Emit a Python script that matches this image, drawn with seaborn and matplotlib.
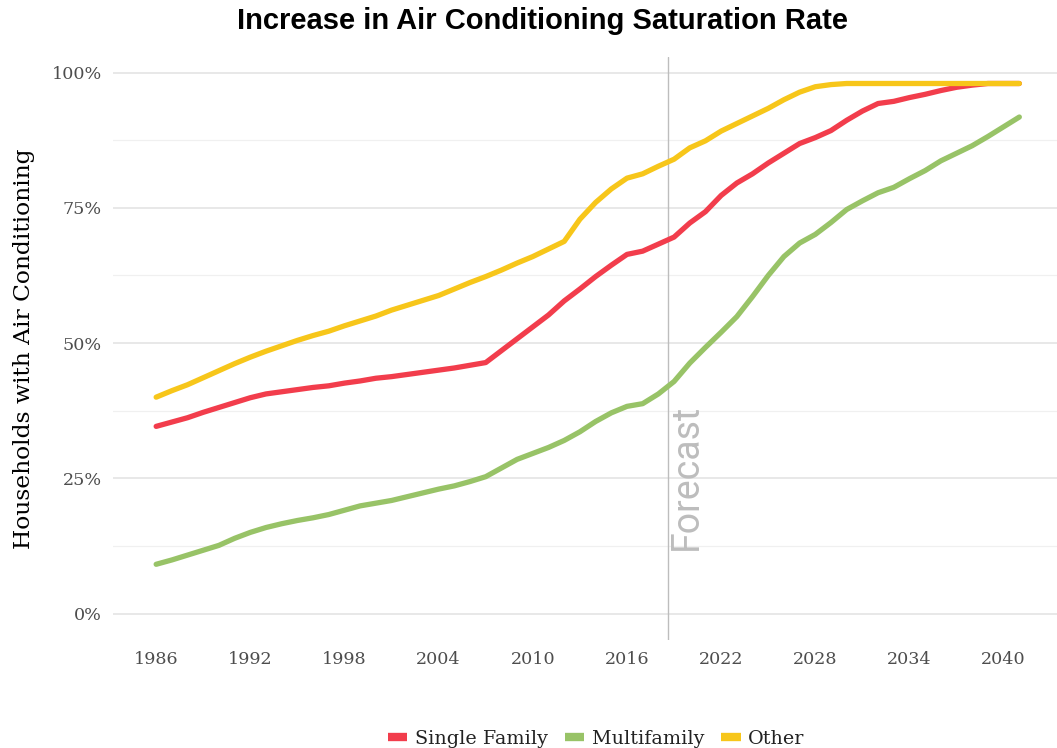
import numpy as np
import pandas as pd
import seaborn as sns
import matplotlib.pyplot as plt
from matplotlib.ticker import MultipleLocator, FuncFormatter

# values (share of households, %)
years = list(range(1986, 2042))

single_family = [34.6, 35.4, 36.2, 37.2, 38.1, 39.0, 39.9, 40.6, 41.0, 41.4,
                 41.8, 42.1, 42.6, 43.0, 43.5, 43.8, 44.2, 44.6, 45.0, 45.4,
                 45.9, 46.4, 48.6, 50.8, 53.0, 55.2, 57.8, 60.0, 62.3, 64.4,
                 66.4, 67.0, 68.3, 69.6, 72.2, 74.3, 77.3, 79.6, 81.3, 83.3,
                 85.1, 86.9, 88.0, 89.3, 91.2, 92.9, 94.3, 94.7, 95.4, 96.0,
                 96.7, 97.3, 97.7, 98.0, 98.0, 98.0]

multifamily = [9.1, 9.9, 10.8, 11.7, 12.6, 13.9, 15.0, 15.9, 16.6, 17.2,
               17.7, 18.3, 19.1, 19.9, 20.4, 20.9, 21.6, 22.3, 23.0, 23.6,
               24.4, 25.3, 26.9, 28.5, 29.6, 30.7, 32.0, 33.6, 35.5, 37.1,
               38.3, 38.8, 40.6, 42.9, 46.3, 49.2, 52.0, 54.9, 58.6, 62.5,
               66.0, 68.5, 70.1, 72.3, 74.7, 76.3, 77.8, 78.8, 80.4, 81.9,
               83.7, 85.1, 86.5, 88.2, 90.0, 91.8]

other = [40.0, 41.2, 42.3, 43.6, 44.9, 46.2, 47.4, 48.5, 49.5, 50.5,
         51.4, 52.2, 53.2, 54.1, 55.0, 56.1, 57.0, 57.9, 58.8, 60.0,
         61.2, 62.3, 63.5, 64.8, 66.0, 67.4, 68.8, 72.9, 76.0, 78.5,
         80.5, 81.3, 82.7, 84.0, 86.1, 87.4, 89.2, 90.6, 92.0, 93.4,
         95.0, 96.4, 97.4, 97.8, 98.0, 98.0, 98.0, 98.0, 98.0, 98.0,
         98.0, 98.0, 98.0, 98.0, 98.0, 98.0]

series = ["Single Family", "Multifamily", "Other"]
colors = ["#F23D4C", "#98C367", "#F7C61A"]
forecast_year = 2018.6
x_ticks = list(range(1986, 2041, 6))

df = pd.DataFrame({
    "year": years * 3,
    "value": single_family + multifamily + other,
    "type": [s for s in series for _ in years],
})

sns.set_theme(style="white")
plt.rcParams["font.family"] = ["DejaVu Serif"]

fig = plt.figure(figsize=(10.57, 7.48), dpi=100)
ax = fig.add_axes([113 / 1057, 1 - 640 / 748, 944 / 1057, 583 / 748])

ax.yaxis.set_major_locator(MultipleLocator(25))
ax.yaxis.set_minor_locator(MultipleLocator(12.5))
ax.grid(axis="y", which="major", color="#E6E6E6", linewidth=1.3)
ax.grid(axis="y", which="minor", color="#F0F0F0", linewidth=0.9)
ax.grid(axis="x", visible=False)
ax.set_axisbelow(True)

sns.lineplot(data=df, x="year", y="value", hue="type", hue_order=series,
             palette=colors, linewidth=3.8, ax=ax, legend=True)

ax.axvline(forecast_year, color="#BDBDBD", linewidth=1.0, zorder=1)
ax.text(forecast_year, 11.8, "Forecast", rotation=90, ha="left", va="bottom",
        fontsize=27, color="#BDBDBD", family=["Roboto", "DejaVu Sans"])

ax.set_xlim(1983.25, 2043.4)
ax.set_ylim(-4.9, 102.9)
ax.set_xticks(x_ticks)
ax.yaxis.set_major_formatter(FuncFormatter(lambda v, p: f"{int(v)}%"))
ax.tick_params(axis="both", which="both", length=0, labelsize=12.6,
               labelcolor="#4D4D4D", pad=8)
for s in ax.spines.values():
    s.set_visible(False)

ax.set_xlabel("")
ax.set_ylabel("Households with Air Conditioning", fontsize=16.8, color="black",
              labelpad=12)

fig.suptitle("Increase in Air Conditioning Saturation Rate", x=0.513, y=0.99,
             fontsize=21, fontweight="bold", color="black",
             family=["Liberation Sans", "DejaVu Sans"])

leg = ax.legend(loc="upper center", bbox_to_anchor=(0.512, -0.125), ncol=3,
                frameon=False, fontsize=13.8, handlelength=1.0, handletextpad=0.4,
                columnspacing=0.9)
for line in leg.get_lines():
    line.set_linewidth(6)
    line.set_solid_capstyle("butt")
for t in leg.get_texts():
    t.set_color("#222222")

fig.savefig("out.png", dpi=100)
